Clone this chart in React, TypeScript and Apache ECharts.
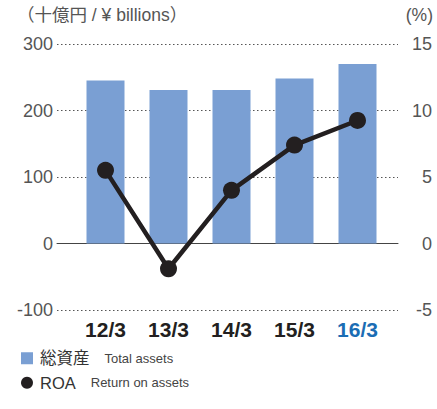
import React, { useEffect, useRef } from "react";
import * as echarts from "echarts";

const categories = ["12/3", "13/3", "14/3", "15/3", "16/3"];
const totalAssets = [245, 231, 231, 248, 270];
const roa = [5.5, -1.9, 4.0, 7.4, 9.25];
const leftTicks = { min: -100, max: 300, interval: 100 };
const rightTicks = { min: -5, max: 15, interval: 5 };

const FONT = "'Liberation Sans', Arial, 'Noto Sans CJK JP', sans-serif";
const NARROW = "'Liberation Sans Narrow', 'Liberation Sans', Arial, sans-serif";

export default function App() {
  const ref = useRef<HTMLDivElement>(null);
  useEffect(() => {
    if (!ref.current) return;
    const chart = echarts.init(ref.current, undefined, { renderer: "svg" });
    chart.setOption({
      animation: false,
      backgroundColor: "#ffffff",
      textStyle: { fontFamily: FONT },
      grid: [
        { left: 57, right: 39, top: 44, bottom: 99 },
        { left: 74, right: 48, top: 44, bottom: 99 },
      ],
      graphic: [
        {
          type: "text",
          left: 17,
          top: 6,
          style: { text: "（十億円 / ¥ billions）", fontSize: 17.5, fill: "#555", fontFamily: FONT },
        },
        {
          type: "text",
          right: 4,
          top: 6,
          style: { text: "(%)", fontSize: 17.5, fill: "#555", fontFamily: FONT },
        },
      ],
      legend: {
        orient: "vertical",
        left: 21,
        top: 350,
        padding: 0,
        itemWidth: 12,
        itemHeight: 12,
        itemGap: 8,
        data: [
          { name: "総資産", icon: "rect" },
          { name: "ROA", icon: "circle" },
        ],
        formatter: (name: string) =>
          name === "総資産" ? "{a|総資産}{b|Total assets}" : "{a|ROA}{b|Return on assets}",
        textStyle: {
          rich: {
            a: { fontSize: 16.5, color: "#333", fontFamily: FONT, padding: [0, 15, 0, 2] },
            b: { fontSize: 13, color: "#444", fontFamily: NARROW },
          },
        },
      },
      xAxis: [
        {
          type: "value",
          gridIndex: 0,
          min: 0,
          max: 1,
          axisLine: { show: true, onZero: true, onZeroAxisIndex: 0, lineStyle: { color: "#444", width: 1 } },
          axisTick: { show: false },
          axisLabel: { show: false },
          splitLine: { show: false },
        },
        {
          type: "category",
          gridIndex: 1,
          data: categories,
          axisLine: { show: false, onZero: false },
          axisTick: { show: false },
          axisLabel: {
            interval: 0,
            margin: 9,
            fontSize: 21,
            fontWeight: "bold",
            color: "#231f20",
            formatter: (v: string) => (v === categories[categories.length - 1] ? `{hl|${v}}` : v),
            rich: { hl: { fontSize: 21, fontWeight: "bold", color: "#1b6db4" } },
          },
        },
      ],
      yAxis: [
        {
          type: "value",
          gridIndex: 0,
          position: "left",
          ...leftTicks,
          axisLine: { show: false },
          axisTick: { show: false },
          axisLabel: { fontSize: 18, color: "#555", margin: 4 },
          splitLine: { show: true, lineStyle: { type: [1.5, 2.5], color: "#555", width: 1 } },
        },
        {
          type: "value",
          gridIndex: 0,
          position: "right",
          ...rightTicks,
          axisLine: { show: false },
          axisTick: { show: false },
          axisLabel: { fontSize: 18, color: "#555", margin: 34, align: "right" },
          splitLine: { show: false },
        },
        {
          type: "value",
          gridIndex: 1,
          ...leftTicks,
          show: false,
        },
        {
          type: "value",
          gridIndex: 1,
          ...rightTicks,
          show: false,
        },
      ],
      series: [
        {
          name: "総資産",
          type: "bar",
          xAxisIndex: 1,
          yAxisIndex: 2,
          data: totalAssets,
          barWidth: 38,
          itemStyle: { color: "#7a9fd3" },
        },
        {
          name: "ROA",
          type: "line",
          xAxisIndex: 1,
          yAxisIndex: 3,
          data: roa,
          symbol: "circle",
          symbolSize: 17,
          lineStyle: { color: "#231f20", width: 4.5 },
          itemStyle: { color: "#231f20" },
        },
      ],
    });
    return () => chart.dispose();
  }, []);
  return (
    <div
      ref={ref}
      style={{ position: "absolute", left: 0, top: 0, width: 437, height: 409 }}
    />
  );
}
